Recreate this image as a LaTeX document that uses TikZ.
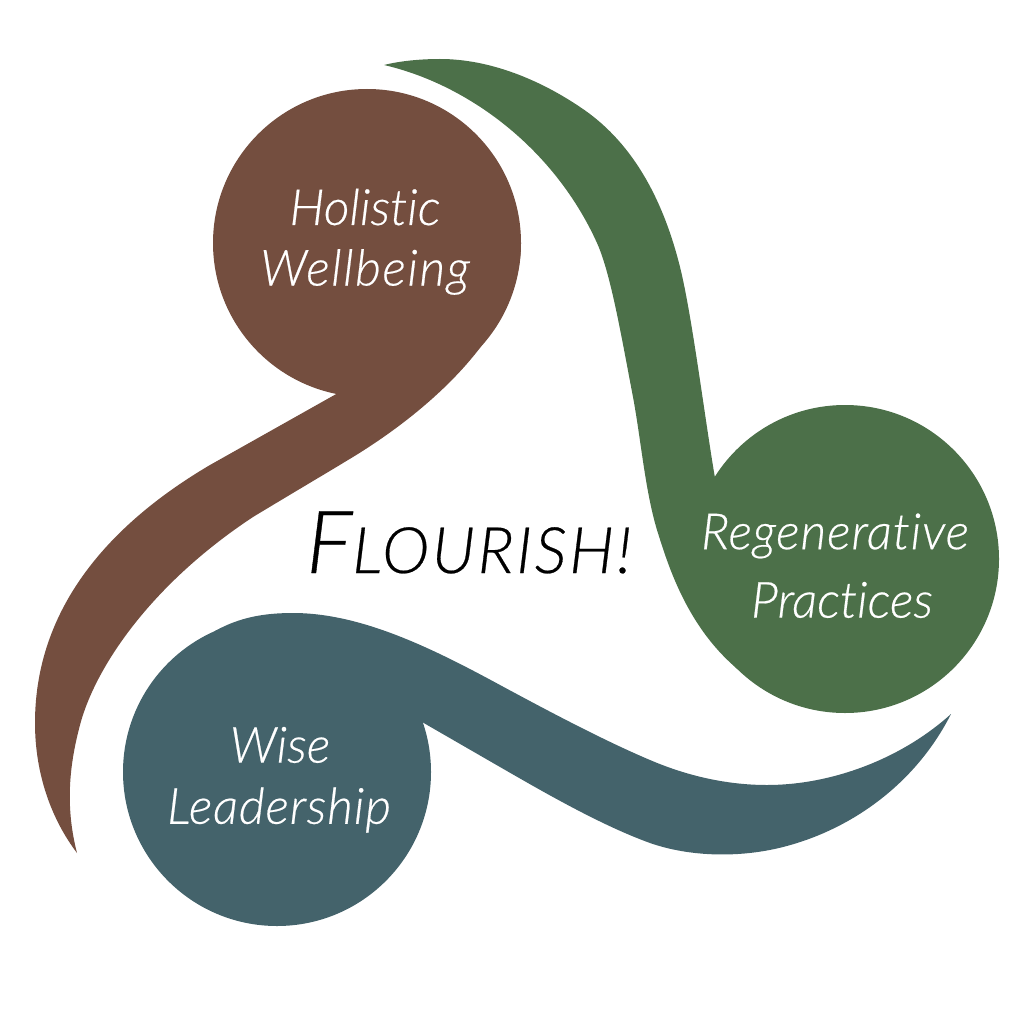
\documentclass[tikz,border=0pt]{standalone}
\usepackage{fontspec}
\setmainfont[Ligatures=NoCommon,ItalicFont={Lato Light Italic},ItalicFeatures={FakeBold=0.4}]{Lato}
\definecolor{brownc}{HTML}{744E3F}
\definecolor{greenc}{HTML}{4C7049}
\definecolor{bluec}{HTML}{44636B}
\tikzset{lbl/.style={text=white,font=\fontsize{50}{50}\selectfont\itshape,inner sep=0pt}}
\begin{document}
\begin{tikzpicture}[x=1pt,y=-1pt]
\useasboundingbox (0,0) rectangle (1024,1024);
% brown
\fill[brownc] (367,243) circle[radius=154];
\fill[brownc] (338,393) -- (210,465)
 .. controls (120,518) and (35,600) .. (35,723)
 .. controls (35,775) and (52,820) .. (77,853)
 .. controls (66,810) and (68,770) .. (80,725)
 .. controls (95,668) and (150,585) .. (253,517)
 .. controls (286,497) and (320,477) .. (353,457)
 .. controls (430,410) and (521,330) .. (521,243) -- cycle;
% green
\fill[greenc] (845,559) circle[radius=154];
\fill[greenc] (384,65) .. controls (400,61) and (420,59) .. (440,59)
 .. controls (490,59) and (540,80) .. (580,107)
 .. controls (630,140) and (662,195) .. (680,267)
 .. controls (692,315) and (705,420) .. (715,478)
 -- (845,559) -- (745,675)
 .. controls (688,632) and (668,565) .. (657,530)
 .. controls (645,490) and (641,440) .. (633,397)
 .. controls (622,340) and (611,274) .. (597,243)
 .. controls (555,150) and (470,85) .. (384,65) -- cycle;
% blue
\fill[bluec] (277,772) circle[radius=154];
\fill[bluec] (951,714) .. controls (900,760) and (830,785) .. (767,785)
 .. controls (725,785) and (685,775) .. (650,760)
 .. controls (605,741) and (550,712) .. (500,685)
 .. controls (430,647) and (360,613) .. (293,613)
 .. controls (265,613) and (240,617) .. (215,631)
 -- (277,772) -- (422,722) -- (500,767)
 .. controls (540,790) and (600,825) .. (650,843)
 .. controls (690,857) and (740,858) .. (783,847)
 .. controls (850,830) and (915,785) .. (951,714) -- cycle;
\node[lbl] (h1) at (365,207) {Holistic};
\node[lbl] (h2) at (365,272) {\addfontfeature{LetterSpace=3}Wellbeing};
\node[lbl] (r1) at (835,536) {\addfontfeature{LetterSpace=1.7}Regenerative};
\node[lbl] (r2) at (842,600) {Practices};
\node[lbl] (w1) at (280,745) {Wise};
\node[lbl] (w2) at (279,810) {\addfontfeature{LetterSpace=1.6}Leadership};
\node[inner sep=0pt,text=black,anchor=base west] (f) at (306,573) {\itshape\fontsize{87}{90}\selectfont F\fontsize{64}{70}\selectfont\addfontfeature{LetterSpace=4}LOURISH!};
\end{tikzpicture}
\end{document}
